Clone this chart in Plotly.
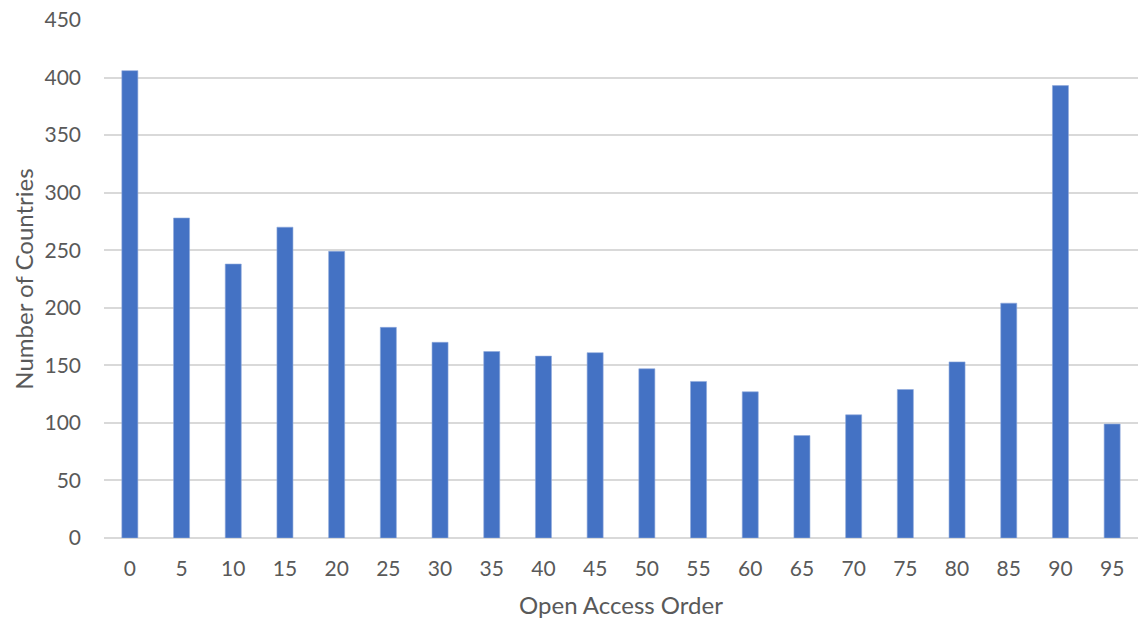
import plotly.graph_objects as go

categories = ["0", "5", "10", "15", "20", "25", "30", "35", "40", "45",
              "50", "55", "60", "65", "70", "75", "80", "85", "90", "95"]
counts = [406, 278, 238, 270, 249, 183, 170, 162, 158, 161,
          147, 136, 127, 89, 107, 129, 153, 204, 393, 99]
y_ticks = [0, 50, 100, 150, 200, 250, 300, 350, 400, 450]

FONT = "Lato"
GREY = "#595959"

fig = go.Figure(go.Bar(
    x=categories, y=counts,
    marker=dict(color="#4472C4", line=dict(color="#8faadc", width=0.6)),
    width=0.31,
))

fig.update_layout(
    width=1138, height=627,
    margin=dict(l=104, r=0, t=20, b=89),
    paper_bgcolor="white", plot_bgcolor="white",
    font=dict(family=FONT, size=21, color=GREY),
    showlegend=False,
    bargap=0.69,
)
fig.update_xaxes(
    type="category",
    title=dict(text="Open Access Order", font=dict(family=FONT, size=24, color=GREY), standoff=18),
    showgrid=False, showline=False, zeroline=False,
    ticks="", ticklabelstandoff=16,
    tickfont=dict(family=FONT, size=21, color=GREY),
)
fig.update_yaxes(
    range=[0, 450], tickvals=y_ticks,
    title=dict(text="Number of Countries", font=dict(family=FONT, size=24, color=GREY), standoff=4),
    showgrid=True, gridcolor="#d9d9d9", gridwidth=1.5,
    zeroline=True, zerolinecolor="#d9d9d9", zerolinewidth=1.5,
    showline=False, ticks="", ticklabelstandoff=22,
    tickfont=dict(family=FONT, size=21, color=GREY),
)

fig.write_html("out.html")
